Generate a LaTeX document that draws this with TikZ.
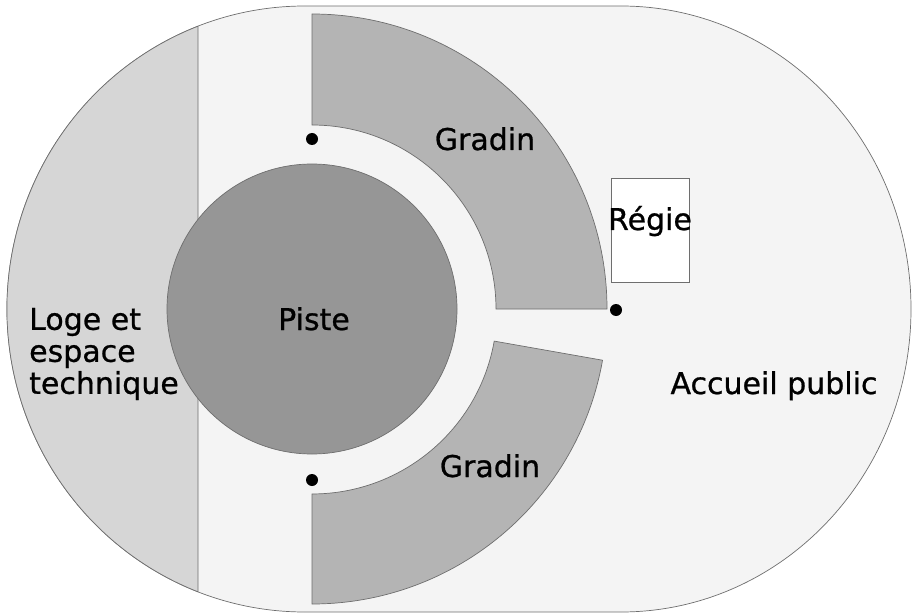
\documentclass[tikz,border=0pt]{standalone}
\usepackage{fontspec}
\setmainfont[FakeBold=0.8]{DejaVu Sans}
\definecolor{fondclair}{HTML}{F4F4F4}
\definecolor{logegris}{HTML}{D6D6D6}
\definecolor{gradingris}{HTML}{B4B4B4}
\definecolor{pistegris}{HTML}{969696}
\definecolor{trait}{HTML}{6E6E6E}

\begin{document}
\begin{tikzpicture}[x=1pt, y=1pt,
    zone/.style={draw=trait, line width=0.7pt},
    etiquette/.style={anchor=base, inner sep=0pt, font=\fontsize{30}{32}\selectfont},
    repere/.style={fill=black}]
    \useasboundingbox (0,0) rectangle (912,614);

    % Accueil public (fond)
    \path[zone, fill=fondclair] (305,608) -- (621,608)
        arc[start angle=90, end angle=-90, x radius=290, y radius=303]
        -- (305,2) arc[start angle=270, end angle=90, x radius=298, y radius=303] -- cycle;

    % Loge et espace technique
    \path[zone, fill=logegris] (198,587.8)
        arc[start angle=111.04, end angle=248.96, x radius=298, y radius=303] -- cycle;

    % Gradins
    \path[zone, fill=gradingris] (496,305) -- (607,305)
        arc[start angle=0, end angle=90, radius=295] -- (312,489)
        arc[start angle=90, end angle=0, radius=184] -- cycle;
    \path[zone, fill=gradingris] (312,120) -- (312,10)
        arc[start angle=-90, end angle=-10, radius=295] -- (494.2,272.9)
        arc[start angle=-10, end angle=-90, radius=185] -- cycle;

    % Piste
    \path[zone, fill=pistegris] (312,305) circle[radius=145];

    % Regie
    \node[zone, fill=white, minimum width=78, minimum height=104, inner sep=0pt] (regie) at (650,384) {};

    % Reperes
    \fill[repere] (312,475) circle[radius=6];
    \fill[repere] (312,134) circle[radius=6];
    \fill[repere] (616,304) circle[radius=6];

    % Textes
    \node[etiquette] (piste) at (314,284) {Piste};
    \node[etiquette] (gradinhaut) at (485,464) {Gradin};
    \node[etiquette] (gradinbas) at (490,137) {Gradin};
    \node[etiquette] (regietexte) at (650,384) {Régie};
    \node[etiquette] (accueil) at (774,220) {Accueil public};
    \node[etiquette, anchor=west, align=left] (loge) at (29,260) {Loge et\\espace\\technique};

\end{tikzpicture}
\end{document}
